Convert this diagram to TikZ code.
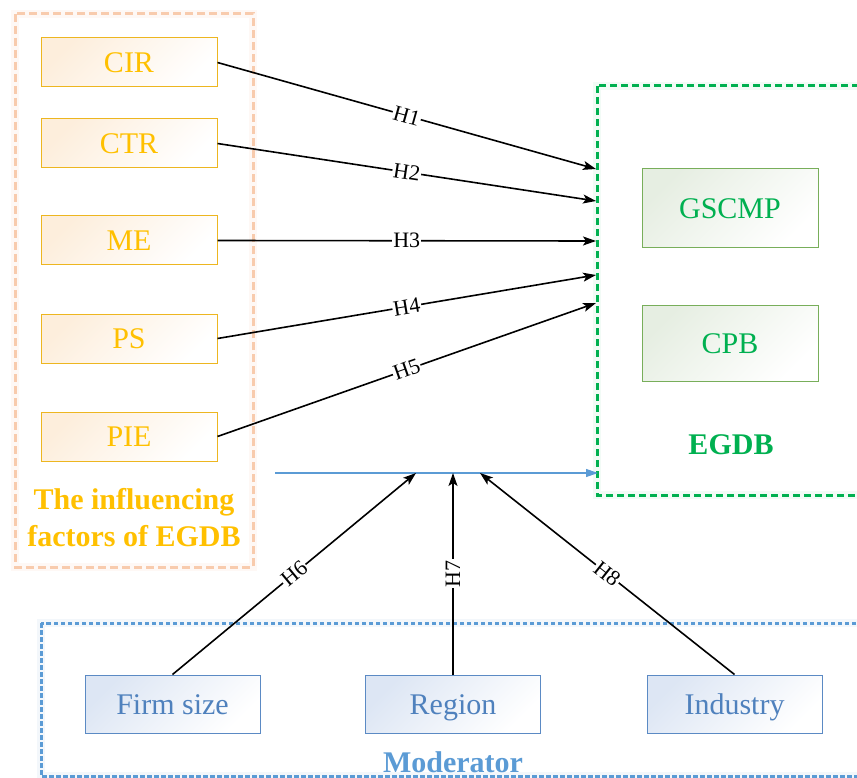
\documentclass[tikz,border=0pt]{standalone}
\usepackage{fontspec}
\setmainfont{Liberation Serif}
\usetikzlibrary{arrows.meta}
\definecolor{orangetxt}{HTML}{FFC000}
\definecolor{orangeborder}{HTML}{EDB620}
\definecolor{orangefill}{HTML}{FDEEDC}
\definecolor{orangedash}{HTML}{F8CBAD}
\definecolor{greentxt}{HTML}{00B050}
\definecolor{greenborder}{HTML}{78AE5A}
\definecolor{greenfill}{HTML}{E6EEE2}
\definecolor{bluetxt}{HTML}{4F81BD}
\definecolor{blueborder}{HTML}{5B8AC4}
\definecolor{bluefill}{HTML}{DDE6F4}
\definecolor{bluedash}{HTML}{5B9BD5}
\tikzset{
  basebox/.style={draw, line width=1pt, minimum width=176pt, inner sep=0pt,
    text height=20pt, text depth=0pt,
    font=\fontsize{30}{34}\selectfont},
  obox/.style={basebox, draw=orangeborder, top color=orangefill, bottom color=white,
    shading angle=45, text=orangetxt, minimum height=49pt},
  gbox/.style={basebox, draw=greenborder, top color=greenfill, bottom color=white,
    shading angle=45, text=greentxt},
  bbox/.style={basebox, draw=blueborder, top color=bluefill, bottom color=white,
    shading angle=45, text=bluetxt, minimum width=175pt, minimum height=58pt},
  hyp/.style={draw=black, line width=1.6pt, -{Stealth[length=13pt,width=9pt,inset=3pt]}},
  hlabel/.style={midway, fill=white, inner sep=1pt, font=\fontsize{22}{24}\selectfont, text=black},
  title/.style={font=\fontsize{30}{37}\selectfont\bfseries, inner sep=0pt},
  glow/.style={line width=8pt, opacity=0.12}
}
\begin{document}
\begin{tikzpicture}[x=1pt,y=-1pt]
\useasboundingbox (0,0) rectangle (857,778);
\clip (0,0) rectangle (857,778);
\fill[white] (0,0) rectangle (857,778);

% dashed group frames (with soft glow)
\draw[glow, orangedash] (15,14) rectangle (253,567);
\draw[glow, greentxt!40] (597,86) rectangle (880,495);
\draw[glow, bluedash!60] (41,623) rectangle (880,776);
\draw[orangedash, line width=3pt, dash pattern=on 8pt off 4pt] (15,14) rectangle (253,567);
\draw[greentxt, line width=3pt, dash pattern=on 7pt off 4pt] (597,86) rectangle (880,495);
\draw[bluedash, line width=3pt, dash pattern=on 4.5pt off 2.5pt] (41,623) rectangle (880,776);

% influencing factors
\node[obox] (cir) at (129,62.5) {CIR};
\node[obox] (ctr) at (129,143.5) {CTR};
\node[obox] (me)  at (129,240.5) {ME};
\node[obox] (ps)  at (129,338.5) {PS};
\node[obox] (pie) at (129,436.5) {PIE};
\node[title, text=orangetxt, align=center] (inftitle) at (134,518) {The influencing\\factors of EGDB};

% EGDB
\node[gbox, minimum height=79pt] (gscmp) at (730,208.5) {GSCMP};
\node[gbox, minimum height=76pt] (cpb) at (730,343) {CPB};
\node[title, text=greentxt] (egdb) at (731,445) {EGDB};

% moderators
\node[bbox] (firm) at (172.5,704) {Firm size};
\node[bbox] (region) at (453,704) {Region};
\node[bbox] (industry) at (734.5,704) {Industry};
\node[title, text=bluedash] (moder) at (453,762) {Moderator};

% arrow end points
\coordinate (t1) at (596,169);
\coordinate (t2) at (596,201);
\coordinate (t3) at (596,241);
\coordinate (t4) at (596,275);
\coordinate (t5) at (596,303);
\coordinate (m0) at (275,473);
\coordinate (m1) at (598,473);
\coordinate (m6) at (416,473);
\coordinate (m7) at (453,473);
\coordinate (m8) at (480,473);

% moderating line
\draw[bluedash, line width=1.2pt, -{Triangle[length=12pt,width=8pt]}] (m0) -- (m1);

% hypotheses
\draw[hyp] (cir.east) -- node[hlabel, sloped] {H1} (t1);
\draw[hyp] (ctr.east) -- node[hlabel, sloped] {H2} (t2);
\draw[hyp] (me.east)  -- node[hlabel] {H3} (t3);
\draw[hyp] (ps.east)  -- node[hlabel, sloped] {H4} (t4);
\draw[hyp] (pie.east) -- node[hlabel, sloped] {H5} (t5);
\draw[hyp] (firm.north) -- node[hlabel, sloped] {H6} (m6);
\draw[hyp] (region.north) -- node[hlabel, rotate=90] {H7} (m7);
\draw[hyp] (industry.north) -- node[hlabel, sloped] {H8} (m8);
\end{tikzpicture}
\end{document}
